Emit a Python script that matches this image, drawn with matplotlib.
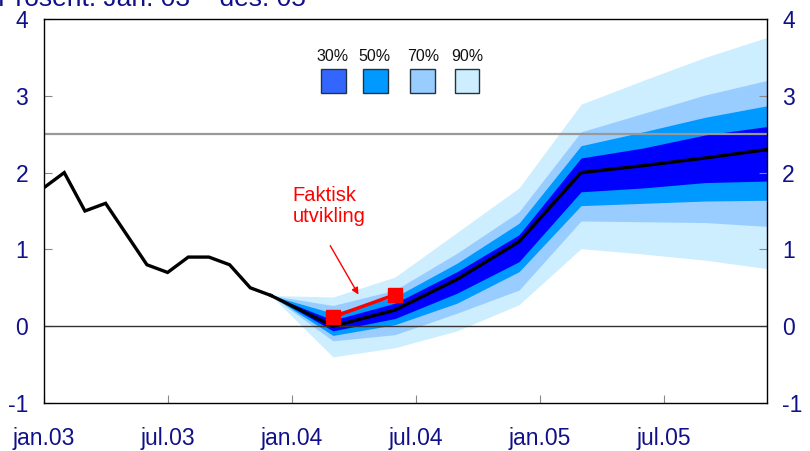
import matplotlib
matplotlib.use("Agg")
import matplotlib.pyplot as plt
from matplotlib.patches import Rectangle

plt.rcParams['font.family'] = ['Liberation Sans', 'DejaVu Sans']

# historisk utvikling, månedlig (jan.03 = 0)
hist_x = [0, 1, 2, 3, 4, 5, 6, 7, 8, 9, 10, 11]
hist_y = [1.8, 2.0, 1.5, 1.6, 1.2, 0.8, 0.7, 0.9, 0.9, 0.8, 0.5, 0.4]

# prognose, kvartalsvis
prog_x = [11, 14, 17, 20, 23, 26, 29, 32, 35]
median = [0.4, 0.0, 0.21, 0.61, 1.10, 2.0, 2.09, 2.19, 2.30]
lo30 = [0.4, -0.06, 0.10, 0.43, 0.84, 1.75, 1.80, 1.87, 1.89]
hi30 = [0.4, 0.08, 0.30, 0.71, 1.19, 2.19, 2.32, 2.49, 2.60]
lo50 = [0.4, -0.12, 0.02, 0.30, 0.71, 1.57, 1.60, 1.63, 1.64]
hi50 = [0.4, 0.17, 0.38, 0.82, 1.34, 2.35, 2.53, 2.72, 2.87]
lo70 = [0.4, -0.19, -0.11, 0.17, 0.47, 1.37, 1.36, 1.35, 1.30]
hi70 = [0.4, 0.27, 0.47, 0.95, 1.49, 2.53, 2.77, 3.01, 3.20]
lo90 = [0.4, -0.40, -0.28, -0.06, 0.28, 1.01, 0.94, 0.86, 0.75]
hi90 = [0.4, 0.38, 0.64, 1.22, 1.80, 2.89, 3.20, 3.50, 3.76]

# faktisk utvikling
fakt_x = [14, 17]
fakt_y = [0.12, 0.41]

tick_pos = [0, 6, 12, 18, 24, 30]
tick_lab = ['jan.03', 'jul.03', 'jan.04', 'jul.04', 'jan.05', 'jul.05']

band_labels = ['30%', '50%', '70%', '90%']
band_colors = ['#0000ff', '#0099ff', '#99ccff', '#cceeff']
legend_colors = ['#3366ff', '#0099ff', '#99ccff', '#cceeff']

navy = '#10108a'

fig = plt.figure(figsize=(8.1, 4.51), dpi=100)
ax = fig.add_axes([0.0538, 0.1064, 0.8932, 0.8515])

# vifte, fra ytterste til innerste
ax.fill_between(prog_x, lo90, hi90, color=band_colors[3], lw=0)
ax.fill_between(prog_x, lo70, hi70, color=band_colors[2], lw=0)
ax.fill_between(prog_x, lo50, hi50, color=band_colors[1], lw=0)
ax.fill_between(prog_x, lo30, hi30, color=band_colors[0], lw=0)

ax.axhline(0, color='#333333', lw=1)
ax.axhline(2.5, color='#999999', lw=1.6)

ax.plot(hist_x, hist_y, color='black', lw=2.4, solid_joinstyle='miter')
ax.plot(prog_x, median, color='black', lw=2.4)

ax.plot(fakt_x, fakt_y, color='#ff0000', lw=2.5, marker='s', ms=10)
ax.annotate('', xy=(15.3, 0.38), xytext=(13.8, 1.08),
            arrowprops=dict(arrowstyle='-|>', color='#ff0000', lw=1,
                            mutation_scale=10))
ax.text(12.05, 1.83, 'Faktisk\nutvikling', color='#ff0000', fontsize=14.5,
        ha='left', va='top', linespacing=1.15)

# forklaring
leg_x = [0.383, 0.441, 0.507, 0.568]
for lab, col, lx in zip(band_labels, legend_colors, leg_x):
    ax.add_patch(Rectangle((lx, 0.807), 0.0345, 0.063, transform=ax.transAxes,
                           facecolor=col, edgecolor='#223344', lw=1))
    ax.text(lx + 0.017, 0.882, lab, transform=ax.transAxes, ha='center',
            va='bottom', fontsize=11.5, color='#111111')

ax.set_xlim(0, 35)
ax.set_ylim(-1, 4)
ax.set_yticks([-1, 0, 1, 2, 3, 4])
ax.set_yticklabels(['-1', '0', '1', '2', '3', '4'])
ax.set_xticks(tick_pos)
ax.set_xticklabels(tick_lab)

ax.tick_params(axis='both', direction='in', color='#888888', length=6,
               labelcolor=navy, labelsize=16.5)
ax.tick_params(axis='y', left=True, right=True, labelleft=True,
               labelright=True, pad=11)
ax.tick_params(axis='x', pad=17)
for s in ax.spines.values():
    s.set_color('black')
    s.set_linewidth(1)

# tittel, delvis utenfor bildet som i originalen
fig.text(-0.003, 0.986, 'Prosent. Jan. 03 \u2013 des. 05', color=navy,
         fontsize=19, va='baseline', ha='left')

fig.savefig('out.png', dpi=100)
